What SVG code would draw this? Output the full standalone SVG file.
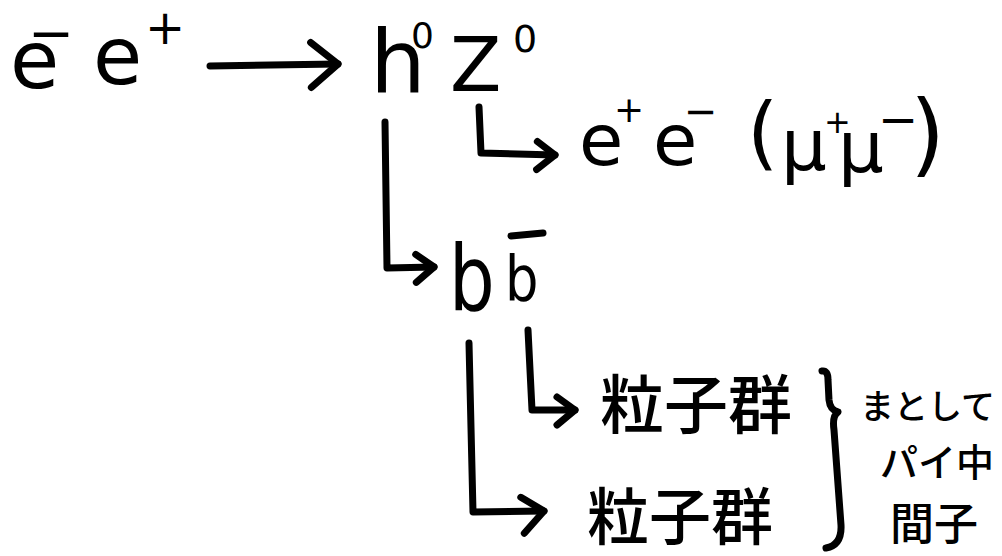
<svg xmlns="http://www.w3.org/2000/svg" width="1002" height="556" viewBox="0 0 1002 556">
<style>
.lat{font-family:"DejaVu Sans","Liberation Sans",sans-serif;fill:#000}
.jp{font-family:"Noto Sans CJK JP","Noto Sans CJK SC",sans-serif;font-weight:500;fill:#000}
.ln{fill:none;stroke:#000;stroke-width:7;stroke-linecap:round;stroke-linejoin:round}
</style>
<defs>
<marker id="big" markerUnits="userSpaceOnUse" markerWidth="60" markerHeight="60" viewBox="-30 -30 60 60" refX="0" refY="0" orient="auto" overflow="visible">
<path d="M-27,-22 L0,0 L-27,23" fill="none" stroke="#000" stroke-width="7" stroke-linecap="round" stroke-linejoin="round"/>
</marker>
<marker id="med" markerUnits="userSpaceOnUse" markerWidth="60" markerHeight="60" viewBox="-30 -30 60 60" refX="0" refY="0" orient="auto" overflow="visible">
<path d="M-23,-14 L0,0 L-20,22" fill="none" stroke="#000" stroke-width="7" stroke-linecap="round" stroke-linejoin="round"/>
</marker>
<marker id="sm" markerUnits="userSpaceOnUse" markerWidth="60" markerHeight="60" viewBox="-30 -30 60 60" refX="0" refY="0" orient="auto" overflow="visible">
<path d="M-18,-13 L0,0 L-18,15" fill="none" stroke="#000" stroke-width="7" stroke-linecap="round" stroke-linejoin="round"/>
</marker>
</defs>
<rect width="1002" height="556" fill="#fff"/>

<g id="connectors">
<path class="ln" d="M210,66 L338,64" marker-end="url(#big)"/>
<path class="ln" d="M385,122 L387,268 L434,267" marker-end="url(#sm)"/>
<path class="ln" d="M479,107 L481,153 L555,155" marker-end="url(#sm)"/>
<path class="ln" d="M528,330 L532,410 L575,410" marker-end="url(#sm)"/>
<path class="ln" d="M469,343 L473,512 L544,511" marker-end="url(#med)"/>
</g>

<g id="node-ee">
<text class="lat" x="10" y="88" font-size="80">e<tspan x="28" y="52" font-size="55">−</tspan><tspan x="93" y="84" font-size="80">e</tspan><tspan x="145" y="44" font-size="48">+</tspan></text>
</g>

<g id="node-hZ">
<text class="lat" x="370" y="92" font-size="88">h<tspan x="411" y="48" font-size="36">0</tspan><tspan x="450" y="91" font-size="75">Z</tspan><tspan x="513" y="52" font-size="38">0</tspan></text>
</g>

<g id="node-leptons">
<text class="lat" x="579" y="165" font-size="72">e<tspan x="614" y="122" font-size="36">+</tspan><tspan x="653" y="165" font-size="72">e</tspan><tspan x="684" y="125" font-size="40">−</tspan><tspan x="747" y="160" font-size="80">(</tspan><tspan x="781" y="170" font-size="72">μ</tspan><tspan x="824" y="133" font-size="32">+</tspan><tspan x="838" y="172" font-size="72">μ</tspan><tspan x="878" y="136" font-size="48">−</tspan><tspan x="910" y="165" font-size="90">)</tspan></text>
</g>

<g id="node-bb">
<text class="lat" transform="translate(449,310) scale(0.8,1)" font-size="90">b</text>
<text class="lat" transform="translate(505,300) scale(0.85,1)" font-size="62">b</text>
<path class="ln" d="M511,236 L543,233"/>
</g>

<g id="node-jets1">
<text class="jp" x="600" y="428" font-size="64">粒子群</text>
</g>

<g id="node-jets2">
<text class="jp" x="587" y="540" font-size="62">粒子群</text>
</g>

<g id="node-note">
<path class="ln" d="M822,371 Q828,370 828,380 L829,400 Q830,410 838,412 Q832,416 834,430 L841,525 Q842,545 826,548"/>
<text class="jp" x="860" y="419" font-size="34">まとして<tspan x="880" y="476" font-size="38">パイ中</tspan><tspan x="890" y="540" font-size="44">間子</tspan></text>
</g>
</svg>
